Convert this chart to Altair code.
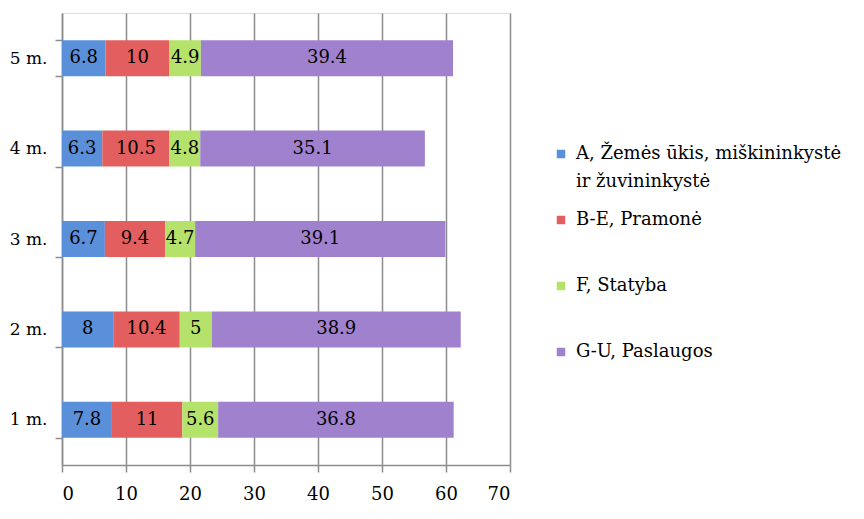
import altair as alt
import pandas as pd

categories = ["1 m.", "2 m.", "3 m.", "4 m.", "5 m."]
series = ["A, Žemės ūkis, miškininkystė ir žuvininkystė", "B-E, Pramonė", "F, Statyba", "G-U, Paslaugos"]
val_A = [7.8, 8, 6.7, 6.3, 6.8]
val_BE = [11, 10.4, 9.4, 10.5, 10]
val_F = [5.6, 5, 4.7, 4.8, 4.9]
val_GU = [36.8, 38.9, 39.1, 35.1, 39.4]
colors = ["#5a8fd9", "#e35f5f", "#b5e26b", "#a081ce"]

rows = []
for si, (s, vals) in enumerate(zip(series, [val_A, val_BE, val_F, val_GU])):
    for c, v in zip(categories, vals):
        rows.append({"cat": c, "series": s, "value": v, "ord": si})
df = pd.DataFrame(rows)

FONT = "DejaVu Serif"
GRID = "#8c8c8c"

base = alt.Chart(df).transform_stack(
    stack="value", groupby=["cat"], sort=[alt.SortField("ord", order="ascending")], as_=["x0", "x1"]
).transform_calculate(mid="(datum.x0 + datum.x1) / 2")

yenc = alt.Y("cat:N", sort=categories[::-1], title=None,
             axis=alt.Axis(labelFont=FONT, labelFontSize=17, labelColor="#000000", labelPadding=8,
                           domain=True, domainColor=GRID, domainWidth=1.5,
                           ticks=True, tickBand="extent", tickSize=7, tickColor=GRID, tickWidth=1.5,
                           grid=False),
             scale=alt.Scale(paddingInner=0.6, paddingOuter=0.3))

label_expr = ("datum.label == 'A, Žemės ūkis, miškininkystė ir žuvininkystė' ? "
              "['A, Žemės ūkis, miškininkystė', 'ir žuvininkystė'] : [datum.label, ' ']")

bars = base.mark_bar(size=36).encode(
    x=alt.X("x0:Q", title=None, scale=alt.Scale(domain=[0, 70]),
            axis=alt.Axis(values=list(range(0, 71, 10)), labelFont=FONT, labelFontSize=18,
                          labelColor="#000000", labelPadding=13, grid=True, gridColor=GRID,
                          gridWidth=1.5, domainColor=GRID, domainWidth=1.5, tickSize=7,
                          tickColor=GRID, tickWidth=1.5)),
    x2="x1:Q",
    y=yenc,
    color=alt.Color("series:N", scale=alt.Scale(domain=series, range=colors), title=None,
                    legend=alt.Legend(orient="none", legendX=490, legendY=132, symbolType="square",
                                      symbolSize=72, symbolStrokeWidth=0, labelFont=FONT, labelFontSize=18,
                                      labelColor="#000000", rowPadding=20, padding=0, labelOffset=6,
                                      labelLimit=400, labelExpr=label_expr)),
    order=alt.Order("ord:Q"),
)

labels = base.mark_text(font=FONT, fontSize=18, color="#000000").encode(
    x="mid:Q",
    y=alt.Y("cat:N", sort=categories[::-1]),
    text=alt.Text("value:Q"),
)

chart = (bars + labels).properties(
    width=448, height=452,
    autosize=alt.AutoSizeParams(type="none"),
    padding={"left": 54, "top": 5, "right": 346, "bottom": 46},
).configure_view(strokeWidth=0).configure(style={"guide-label": {"lineHeight": 28}})

chart.save("out.html", embed_options={"renderer": "svg", "actions": False})
